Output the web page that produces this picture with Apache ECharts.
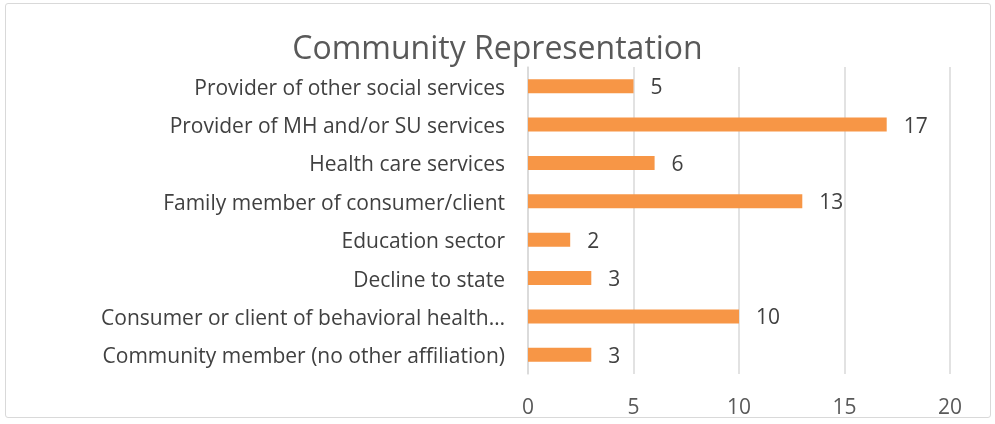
<!DOCTYPE html>
<html>
<head>
<meta charset="utf-8">
<script src="https://cdn.jsdelivr.net/npm/echarts@6/dist/echarts.min.js"></script>
<style>
  html, body { margin: 0; padding: 0; background: #fff; }
  #frame { position: absolute; left: 5px; top: 3px; width: 986px; height: 415px; border: 1.5px solid #d9d9d9; border-radius: 3px; box-sizing: border-box; }
  #chart { width: 995px; height: 424px; }
</style>
</head>
<body>
<div id="frame"></div>
<div id="chart"></div>
<script>
// Response categories, listed top to bottom
const categories = [
  'Provider of other social services',
  'Provider of MH and/or SU services',
  'Health care services',
  'Family member of consumer/client',
  'Education sector',
  'Decline to state',
  'Consumer or client of behavioral health\u2026',
  'Community member (no other affiliation)'
];
// Number of respondents per category
const counts = [5, 17, 6, 13, 2, 3, 10, 3];
// Value axis ticks
const axisMin = 0;
const axisMax = 20;
const axisStep = 5;

const font = '"Open Sans", sans-serif';
const chart = echarts.init(document.getElementById('chart'), null, { renderer: 'canvas' });
chart.setOption({
  animation: false,
  backgroundColor: 'transparent',
  title: {
    text: 'Community Representation',
    left: 'center',
    top: 29,
    textStyle: { fontFamily: font, fontSize: 32, fontWeight: 'normal', color: '#595959' }
  },
  grid: { left: 528, right: 45, top: 67, bottom: 50 },
  xAxis: {
    type: 'value',
    min: axisMin,
    max: axisMax,
    interval: axisStep,
    axisLine: { show: false },
    axisTick: { show: false },
    splitLine: { lineStyle: { color: '#d9d9d9', width: 1.5 } },
    axisLabel: { fontFamily: font, fontSize: 21, color: '#595959', margin: 24 }
  },
  yAxis: {
    type: 'category',
    data: categories,
    inverse: true,
    axisLine: { lineStyle: { color: '#d9d9d9', width: 1.5 } },
    axisTick: { show: false },
    axisLabel: {
      margin: 23,
      formatter: (v) => '{c|' + v + '}',
      rich: {
        c: { fontFamily: font, fontSize: 21, color: '#404040', padding: [5, 0, 0, 0] }
      }
    }
  },
  series: [{
    type: 'bar',
    data: counts,
    barWidth: 14,
    itemStyle: { color: '#F79646' },
    label: {
      show: true,
      position: 'right',
      distance: 17,
      offset: [0, 2],
      fontFamily: font,
      fontSize: 21,
      color: '#404040'
    }
  }]
});
</script>
</body>
</html>
